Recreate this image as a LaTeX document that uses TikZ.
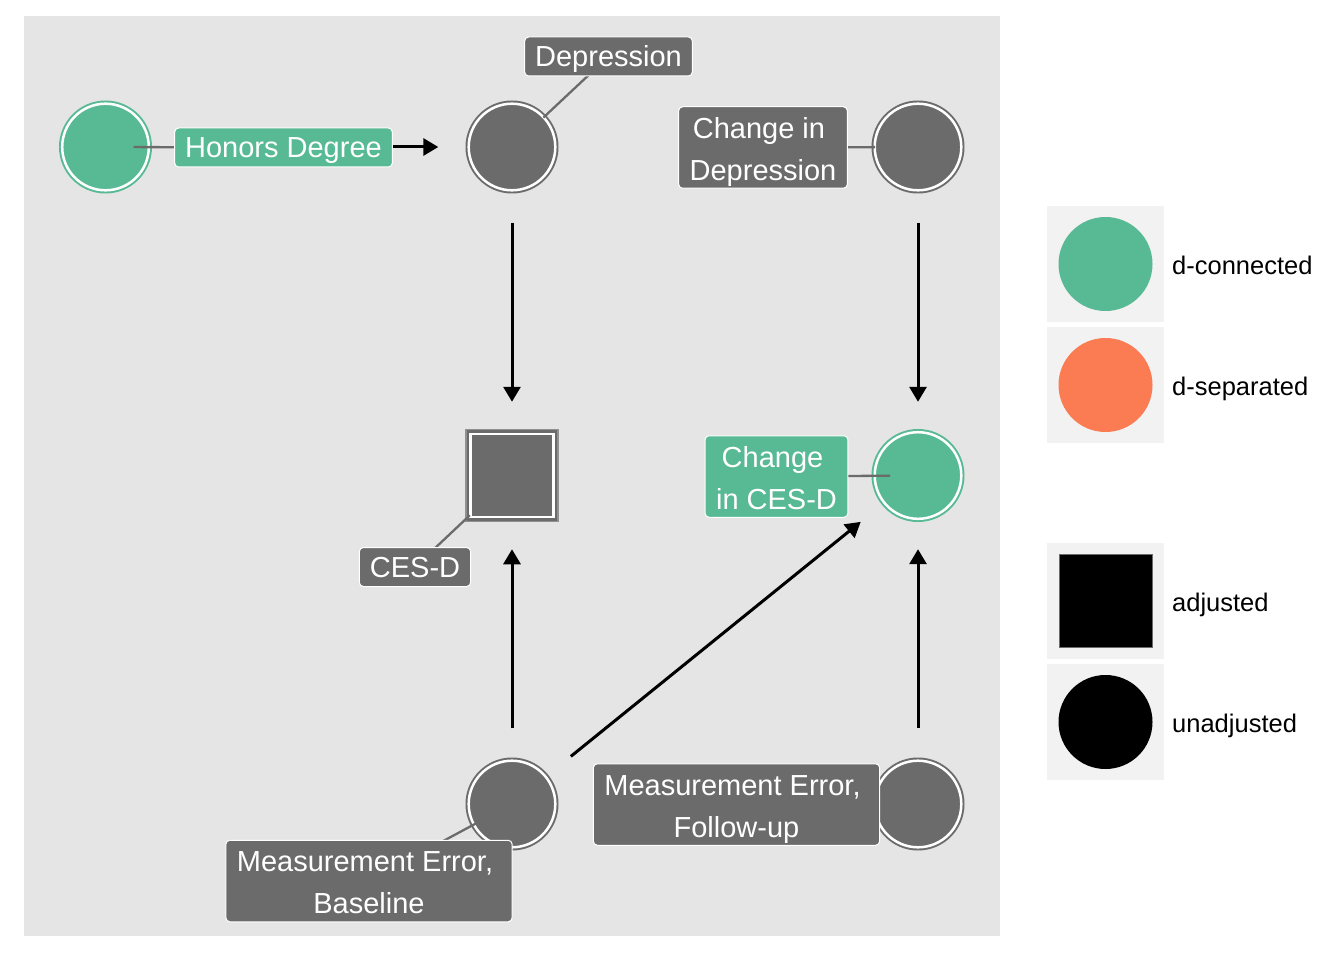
\documentclass[tikz,border=0pt]{standalone}
\usepackage{fontspec}
\setmainfont{Liberation Sans}
\usetikzlibrary{arrows.meta}
\definecolor{ggray}{HTML}{6B6B6B}
\definecolor{ggreen}{HTML}{57BA94}
\definecolor{gorange}{HTML}{FB7B52}
\definecolor{panelbg}{HTML}{E5E5E5}
\definecolor{keybg}{HTML}{F2F2F2}
\pgfdeclarelayer{bg}
\pgfdeclarelayer{mid}
\pgfsetlayers{bg,mid,main}
\newcommand{\labfirst}[1]{\raisebox{0pt}[25.5pt][0pt]{#1}}
\newcommand{\lablast}[1]{\raisebox{0pt}[21pt][2pt]{#1}}
\begin{document}
\begin{tikzpicture}[x=1pt,y=-1pt,
  dagnode/.style={circle,fill=#1,minimum size=93pt,inner sep=0pt},
  ringc/.style={circle,draw=white,line width=2.5pt,minimum size=86.6pt,inner sep=0pt},
  dagsq/.style={rectangle,fill=#1,draw=#1!75!white,line width=1.5pt,minimum size=92pt,inner sep=0pt},
  rings/.style={rectangle,draw=white,line width=2.5pt,minimum size=83.4pt,inner sep=0pt},
  lab/.style={rectangle,rounded corners=4pt,draw=white,line width=1pt,fill=#1,text=white,font=\fontsize{29}{42}\selectfont,inner ysep=6pt},
  labone/.style={lab=#1,inner xsep=10.5pt,text height=24pt,text depth=3pt},
  labtwo/.style={lab=#1,inner xsep=11pt,align=center},
  edge/.style={draw=black,line width=3pt,-{Triangle[length=15pt,width=17pt]},shorten <=29pt,shorten >=27pt},
  lead/.style={draw=ggray,line width=2.3pt},
  legtext/.style={anchor=base west,font=\fontsize{25.5}{30}\selectfont,inner sep=0pt},
  keybox/.style={rectangle,fill=keybg,minimum width=117pt,minimum height=116pt,inner sep=0pt},
  keycirc/.style={circle,fill=#1,minimum size=94pt,inner sep=0pt},
  keysq/.style={rectangle,fill=black,draw=ggray,line width=1pt,minimum size=93pt,inner sep=0pt}
]
\useasboundingbox (0,0) rectangle (1344,960);
\begin{pgfonlayer}{bg}
\fill[white] (0,0) rectangle (1344,960);
\fill[panelbg] (24,16) rectangle (1000,936);
% DAG nodes
\node[dagnode=ggreen] (hd) at (105.5,147) {};
\node[ringc] (hdr) at (hd.center) {};
\node[dagnode=ggray] (dep) at (512,147) {};
\node[ringc] (depr) at (dep.center) {};
\node[dagnode=ggray] (cdep) at (918,147) {};
\node[ringc] (cdepr) at (cdep.center) {};
\node[dagsq=ggray] (ces) at (512,475.5) {};
\node[rings] (cesr) at (ces.center) {};
\node[dagnode=ggreen] (cces) at (918,475.5) {};
\node[ringc] (ccesr) at (cces.center) {};
\node[dagnode=ggray] (meb) at (512,804) {};
\node[ringc] (mebr) at (meb.center) {};
\node[dagnode=ggray] (mef) at (918,804) {};
\node[ringc] (mefr) at (mef.center) {};
\end{pgfonlayer}
% labels
\node[labone=ggreen] (hdl) at (283.5,147.5) {Honors Degree};
\node[labone=ggray] (depl) at (608.5,56.5) {Depression};
\node[labtwo=ggray] (cdepl) at (763,147.5) {\labfirst{Change in\rule{8pt}{0pt}}\\\lablast{Depression}};
\node[labone=ggray] (cesl) at (415,567) {CES-D};
\node[labtwo=ggreen] (ccesl) at (776.5,476.5) {\labfirst{Change\rule{8pt}{0pt}}\\\lablast{in CES-D}};
\node[labtwo=ggray] (mebl) at (369,881) {\labfirst{Measurement Error,\rule{8pt}{0pt}}\\\lablast{Baseline}};
\node[labtwo=ggray] (mefl) at (736.5,804.5) {\labfirst{Measurement Error,\rule{8pt}{0pt}}\\\lablast{Follow-up}};
\begin{pgfonlayer}{mid}
\draw[edge] (hd) -- (dep);
\draw[edge] (dep) -- (ces);
\draw[edge] (cdep) -- (cces);
\draw[edge] (meb) -- (ces);
\draw[edge] (meb) -- (cces);
\draw[edge] (mef) -- (cces);
\draw[lead,shorten >=28pt] (hdl.center) -- (hd.center);
\draw[lead,shorten >=43pt] (depl.center) -- (dep.center);
\draw[lead,shorten >=43pt] (cdepl.center) -- (cdep.center);
\draw[lead,shorten >=58pt] (cesl.center) -- (ces.center);
\draw[lead,shorten >=28pt] (ccesl.center) -- (cces.center);
\draw[lead,shorten >=41pt] (mebl.center) -- (meb.center);
\draw[lead,shorten >=43pt] (mefl.center) -- (mef.center);
\end{pgfonlayer}
% legend
\node[keybox] (k1) at (1105.5,264) {};
\node[keycirc=ggreen] (k1c) at (k1.center) {};
\node[legtext] (k1t) at (1172,274) {d-connected};
\node[keybox] (k2) at (1105.5,385) {};
\node[keycirc=gorange] (k2c) at (k2.center) {};
\node[legtext] (k2t) at (1172,395) {d-separated};
\node[keybox] (k3) at (1105.5,601) {};
\node[keysq] (k3s) at (k3.center) {};
\node[legtext] (k3t) at (1172,611) {adjusted};
\node[keybox] (k4) at (1105.5,722) {};
\node[keycirc=black] (k4c) at (k4.center) {};
\node[legtext] (k4t) at (1172,732) {unadjusted};
\end{tikzpicture}
\end{document}
